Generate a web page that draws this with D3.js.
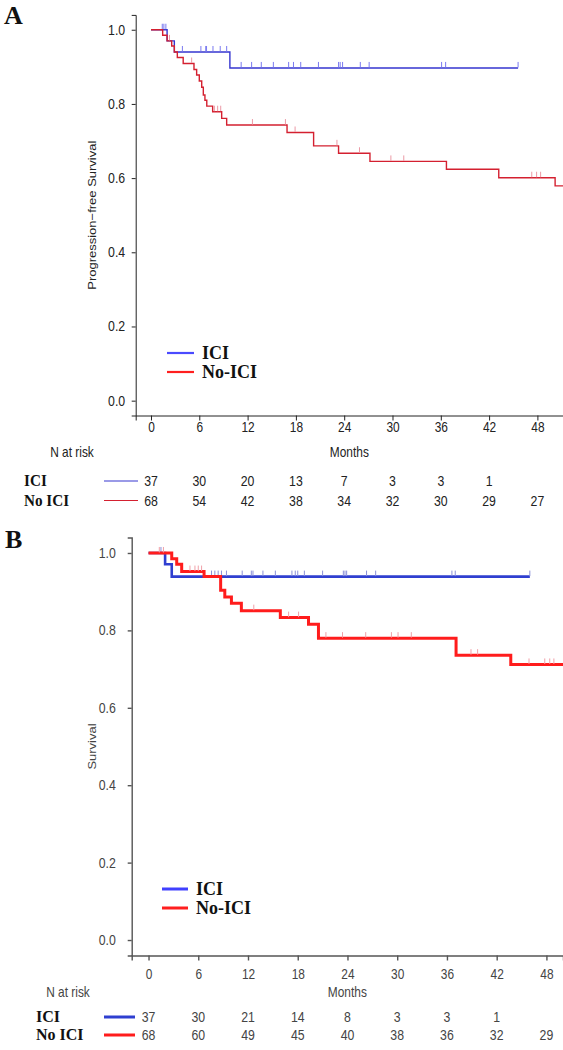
<!DOCTYPE html>
<html><head><meta charset="utf-8">
<script src="https://cdn.jsdelivr.net/npm/d3@7"></script>
<style>body{margin:0;background:#fff}svg{display:block}</style>
</head><body>
<svg id="c" width="563" height="1050"></svg>
<script>
// ---------------- data ----------------
const xTicks = [0, 6, 12, 18, 24, 30, 36, 42, 48];
const yTicks = [0, 0.2, 0.4, 0.6, 0.8, 1.0];
const riskTimes = [0, 6, 12, 18, 24, 30, 36, 42, 48];
const legendLabels = ["ICI", "No-ICI"];
const riskLabels = ["ICI", "No ICI"];

// Panel A: progression-free survival
const aIciTimes = [0, 2.0, 2.9, 9.8];
const aIciSurv  = [1.0, 0.970, 0.940, 0.897];
const aIciEnd = 45.6;
const aIciCensor = [1.4, 1.6, 1.85, 3.9, 6.2, 6.8, 6.9, 7.7, 8.6, 9.4, 11.2, 12.5, 13.7, 15.2, 17.1, 17.7, 18.6, 20.8, 23.3, 23.5, 23.8, 26.0, 27.1, 36.1, 36.6, 45.6];
const aNoTimes = [0, 1.45, 2.0, 2.57, 2.9, 3.27, 4.0, 5.34, 5.67, 6.0, 6.3, 6.5, 6.7, 6.93, 7.66, 8.78, 9.4, 16.9, 20.2, 23.3, 27.2, 36.7, 43.2, 50.2];
const aNoSurv  = [1.0, 0.985, 0.970, 0.956, 0.940, 0.925, 0.909, 0.893, 0.878, 0.862, 0.845, 0.824, 0.810, 0.794, 0.779, 0.761, 0.743, 0.723, 0.687, 0.667, 0.645, 0.624, 0.601, 0.579];
const aNoEnd = 51.2;
const aNoCensor = [2.3, 5.05, 7.87, 8.28, 8.66, 12.6, 16.7, 17.9, 23.1, 25.9, 29.8, 31.4, 47.3, 47.9, 48.4];
const aIciRisk = [37, 30, 20, 13, 7, 3, 3, 1];
const aNoRisk  = [68, 54, 42, 38, 34, 32, 30, 29, 27];

// Panel B: overall survival
const bIciTimes = [0, 2.0, 2.8];
const bIciSurv  = [1.0, 0.971, 0.939];
const bIciEnd = 46.0;
const bIciCensor = [1.5, 7.6, 8.0, 8.4, 8.8, 9.4, 11.3, 12.4, 12.6, 13.8, 15.3, 17.3, 17.7, 18.0, 18.8, 21.0, 23.5, 23.7, 23.9, 26.3, 27.4, 36.6, 37.0, 46.0];
const bNoTimes = [0, 2.8, 3.4, 4.0, 6.7, 8.7, 9.2, 10.0, 11.2, 15.9, 19.3, 20.5, 37.1, 43.7];
const bNoSurv  = [1.0, 0.985, 0.971, 0.952, 0.939, 0.904, 0.886, 0.870, 0.851, 0.833, 0.816, 0.780, 0.736, 0.712];
const bNoEnd = 50.0;
const bNoCensor = [1.3, 1.8, 5.0, 5.6, 6.0, 6.4, 12.7, 16.9, 18.1, 21.4, 23.4, 26.2, 29.3, 30.1, 31.7, 38.9, 39.7, 45.9, 47.8, 48.4, 48.9];
const bIciRisk = [37, 30, 21, 14, 8, 3, 3, 1];
const bNoRisk  = [68, 60, 49, 45, 40, 38, 36, 32, 29];

// ---------------- drawing ----------------
const svg = d3.select("#c");
const SANS = "Liberation Sans, Arial, sans-serif";
const SERIF = "Liberation Serif, Times New Roman, serif";

function txt(g, x, y, s, o) {
  return g.append("text")
    .attr("transform", `translate(${x},${y}) scale(${o.sx || 1},1)`)
    .attr("text-anchor", o.anchor || "start")
    .attr("font-family", o.family || SANS)
    .attr("font-size", o.size || 14)
    .attr("font-weight", o.weight || "normal")
    .attr("fill", o.fill || "#222")
    .text(s);
}

function survAt(times, surv, t) {
  let v = surv[0];
  for (let i = 0; i < times.length; i++) if (times[i] <= t) v = surv[i];
  return v;
}

function drawCurve(g, x, y, times, surv, end, censor, col, tickCol, w, tickW) {
  const pts = times.map((t, i) => [t, surv[i]]);
  pts.push([end, surv[surv.length - 1]]);
  const line = d3.line().x(d => x(d[0])).y(d => y(d[1])).curve(d3.curveStepAfter);
  g.append("path").attr("d", line(pts)).attr("fill", "none")
    .attr("stroke", col).attr("stroke-width", w);
  g.selectAll(null).data(censor).enter().append("line")
    .attr("x1", d => x(d)).attr("x2", d => x(d))
    .attr("y1", d => y(survAt(times, surv, d)) - 6)
    .attr("y2", d => y(survAt(times, surv, d)) - 0.5)
    .attr("stroke", tickCol).attr("stroke-width", tickW);
}

function panel(p) {
  const g = svg.append("g");
  const x = d3.scaleLinear().domain(p.xDom).range(p.xRange);
  const y = d3.scaleLinear().domain([-0.04, 1.04]).range(p.yRange);

  // axes
  const ax = g.append("g").attr("transform", `translate(0,${p.yRange[0]})`)
    .call(d3.axisBottom(x).tickValues(xTicks).tickSizeOuter(0).tickSize(5).tickPadding(p.xPad));
  const ay = g.append("g").attr("transform", `translate(${p.xRange[0]},0)`)
    .call(d3.axisLeft(y).tickValues(yTicks).tickFormat(d3.format(".1f")).tickSizeOuter(0).tickSize(4).tickPadding(p.yPad));
  [ax, ay].forEach(a => {
    a.select(".domain").attr("stroke", p.axisCol).attr("stroke-width", p.axisW);
    a.selectAll(".tick line").attr("stroke", p.axisCol).attr("stroke-width", p.axisW);
    a.selectAll(".tick text").attr("font-family", SANS).attr("font-size", 14)
      .attr("fill", p.textCol);
  });
  ax.selectAll(".tick text").attr("transform", "scale(0.85,1)");
  ay.selectAll(".tick text").attr("transform", "scale(0.88,1)");

  // y title
  g.append("text")
    .attr("transform", `translate(${p.yTitleX},${(p.yRange[0] + p.yRange[1]) / 2}) rotate(-90) scale(1,0.9)`)
    .attr("text-anchor", "middle").attr("font-family", SANS).attr("font-size", 13)
    .attr("fill", p.textCol).text(p.yTitle);

  // curves
  drawCurve(g, x, y, p.iciTimes, p.iciSurv, p.iciEnd, p.iciCensor, p.blue, p.blueTick, p.blueW, 1);
  drawCurve(g, x, y, p.noTimes, p.noSurv, p.noEnd, p.noCensor, p.red, p.redTick, p.redW, 1);

  // legend
  [p.blueLeg, p.redLeg].forEach((c, i) => {
    const ly = p.legY + i * p.legGap;
    g.append("line").attr("x1", p.legX1).attr("x2", p.legX2).attr("y1", ly).attr("y2", ly)
      .attr("stroke", c).attr("stroke-width", p.legW);
    txt(g, p.legX2 + 8, ly + 6, legendLabels[i], {family: SERIF, size: 18, weight: "bold", fill: "#111", sx: p.legSx});
  });

  // title letter
  txt(g, p.letterX, p.letterY, p.letter, {family: SERIF, size: 26, weight: "bold", fill: "#111"});

  // risk table
  txt(g, p.nriskX, p.monthsY, "N at risk", {size: 14, fill: p.textCol, anchor: "middle", sx: 0.85});
  txt(g, (p.xRange[0] + p.xRange[1]) / 2, p.monthsY, "Months", {size: 14, fill: p.textCol, anchor: "middle", sx: 0.85});
  const risks = [p.iciRisk, p.noRisk];
  const cols = [p.blue, p.red];
  risks.forEach((r, i) => {
    const ry = p.riskY + i * p.riskGap;
    txt(g, p.rlabX, ry, riskLabels[i], {family: SERIF, size: p.rlabSize, weight: "bold", fill: "#111", sx: p.rlabSx});
    g.append("line").attr("x1", p.rlineX1).attr("x2", p.rlineX2).attr("y1", ry - 5).attr("y2", ry - 5)
      .attr("stroke", cols[i]).attr("stroke-width", p.rlineW);
    g.selectAll(null).data(r).enter().append("text")
      .attr("transform", (d, j) => `translate(${x(riskTimes[j])},${ry}) scale(0.82,1)`)
      .attr("text-anchor", "middle").attr("font-family", SANS).attr("font-size", 15)
      .attr("fill", p.textCol).text(d => d);
  });
}

panel({
  xDom: [-1.9, 51.18], xRange: [135.7, 563], yRange: [415.5, 14.9],
  xPad: 2, yPad: 8, axisCol: "#222", axisW: 1, textCol: "#222",
  yTitle: "Progression\u2212free Survival", yTitleX: 96,
  iciTimes: aIciTimes, iciSurv: aIciSurv, iciEnd: aIciEnd, iciCensor: aIciCensor,
  noTimes: aNoTimes, noSurv: aNoSurv, noEnd: aNoEnd, noCensor: aNoCensor,
  blue: "#3636d0", blueTick: "#7a7af0", blueW: 1.4,
  red: "#d42030", redTick: "#eb9aa6", redW: 1.4,
  blueLeg: "#4a4aff", redLeg: "#ff1f1f", legW: 2.2,
  legX1: 167, legX2: 194, legY: 353, legGap: 19, legSx: 1.0,
  letter: "A", letterX: 4, letterY: 24,
  nriskX: 72, monthsY: 457,
  iciRisk: aIciRisk, noRisk: aNoRisk,
  riskY: 486, riskGap: 19.5, rlabX: 24, rlabSize: 16, rlabSx: 0.95,
  rlineX1: 104, rlineX2: 138, rlineW: 1.2
});

panel({
  xDom: [-2.03, 50.0], xRange: [131.7, 563], yRange: [955.5, 537.5],
  xPad: 9, yPad: 14, axisCol: "#555", axisW: 1.4, textCol: "#444",
  yTitle: "Survival", yTitleX: 96,
  iciTimes: bIciTimes, iciSurv: bIciSurv, iciEnd: bIciEnd, iciCensor: bIciCensor,
  noTimes: bNoTimes, noSurv: bNoSurv, noEnd: bNoEnd, noCensor: bNoCensor,
  blue: "#2f3fd0", blueTick: "#8a90d8", blueW: 2.6,
  red: "#ff1c1c", redTick: "#f0a0a8", redW: 3,
  blueLeg: "#4040ff", redLeg: "#ff1f1f", legW: 3,
  legX1: 162, legX2: 188, legY: 889, legGap: 19, legSx: 1.0,
  letter: "B", letterX: 5, letterY: 548,
  nriskX: 68, monthsY: 997,
  iciRisk: bIciRisk, noRisk: bNoRisk,
  riskY: 1022, riskGap: 18, rlabX: 36, rlabSize: 16, rlabSx: 1.0,
  rlineX1: 104, rlineX2: 135, rlineW: 3
});
</script>
</body></html>
